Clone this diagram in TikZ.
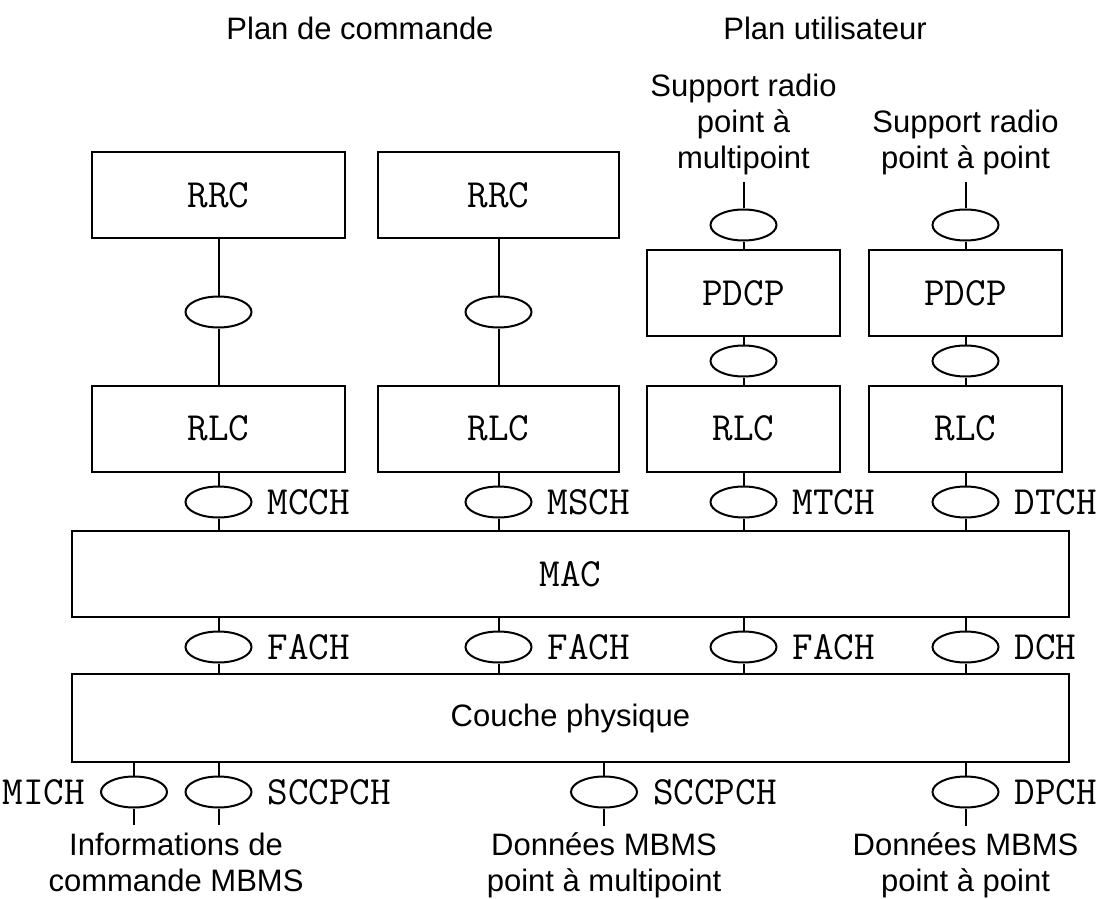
\documentclass[tikz,border=0pt]{standalone}
\usepackage{fontspec}
\setsansfont{Liberation Sans}
\usetikzlibrary{shapes.geometric, positioning}

\begin{document}
\begin{tikzpicture}[
    x=0.5pt, y=-0.5pt,
    line width=1pt,
    layer/.style={draw, rectangle, inner sep=0pt, minimum height=43pt,
        font=\fontsize{20}{22}\selectfont\ttfamily},
    chan/.style={draw, ellipse, inner sep=0pt, minimum width=33pt, minimum height=15.5pt},
    lbl/.style={inner sep=0pt, font=\fontsize{20}{22}\selectfont\ttfamily},
    txt/.style={align=center, font=\fontsize{15.5}{18}\selectfont\sffamily}
]
    \useasboundingbox (0,0) rectangle (1104,899);

    % Plan titles
    \node[txt] (ctrl) at (360,28) {Plan de commande};
    \node[txt] (user) at (825,28) {Plan utilisateur};

    % Protocol layers
    \node[layer, minimum width=126.5pt] (rrc1) at (218.5,195) {RRC};
    \node[layer, minimum width=120.5pt] (rrc2) at (498.5,195) {RRC};
    \node[layer, minimum width=96.5pt] (pdcp3) at (743.5,293) {PDCP};
    \node[layer, minimum width=96.5pt] (pdcp4) at (965.5,293) {PDCP};
    \node[layer, minimum width=126.5pt] (rlc1) at (218.5,428.5) {RLC};
    \node[layer, minimum width=120.5pt] (rlc2) at (498.5,428.5) {RLC};
    \node[layer, minimum width=96.5pt] (rlc3) at (743.5,428.5) {RLC};
    \node[layer, minimum width=96.5pt] (rlc4) at (965.5,428.5) {RLC};
    \node[layer, minimum width=498.5pt] (mac) at (570.5,574) {MAC};
    \node[layer, minimum width=498.5pt, minimum height=44pt,
        font=\fontsize{15.5}{18}\selectfont\sffamily] (phy) at (570.5,718) {Couche physique};

    % Service access points
    \node[chan] (sap1) at (218.5,312) {};
    \node[chan] (sap2) at (498.5,312) {};
    \node[chan] (rb3) at (743.5,225) {};
    \node[chan] (rb4) at (965.5,225) {};
    \node[chan] (sap3) at (743.5,361) {};
    \node[chan] (sap4) at (965.5,361) {};

    % Logical channels
    \node[chan] (mcch) at (218.5,502) {};
    \node[chan] (msch) at (498.5,502) {};
    \node[chan] (mtch) at (743.5,502) {};
    \node[chan] (dtch) at (965.5,502) {};
    \node[lbl, right=7pt of mcch] (l-mcch) {MCCH};
    \node[lbl, right=7pt of msch] (l-msch) {MSCH};
    \node[lbl, right=7pt of mtch] (l-mtch) {MTCH};
    \node[lbl, right=7pt of dtch] (l-dtch) {DTCH};

    % Transport channels
    \node[chan] (fach1) at (218.5,647) {};
    \node[chan] (fach2) at (498.5,647) {};
    \node[chan] (fach3) at (743.5,647) {};
    \node[chan] (dch) at (965.5,647) {};
    \node[lbl, right=7pt of fach1] (l-fach1) {FACH};
    \node[lbl, right=7pt of fach2] (l-fach2) {FACH};
    \node[lbl, right=7pt of fach3] (l-fach3) {FACH};
    \node[lbl, right=7pt of dch] (l-dch) {DCH};

    % Physical channels
    \node[chan] (mich) at (134,792) {};
    \node[chan] (sccpch1) at (218.5,792) {};
    \node[chan] (sccpch2) at (604,792) {};
    \node[chan] (dpch) at (965.5,792) {};
    \node[lbl, left=7pt of mich] (l-mich) {MICH};
    \node[lbl, right=7pt of sccpch1] (l-sccpch1) {SCCPCH};
    \node[lbl, right=7pt of sccpch2] (l-sccpch2) {SCCPCH};
    \node[lbl, right=7pt of dpch] (l-dpch) {DPCH};

    % Bearers and data
    \node[txt, above=13pt of rb3] (ptm) {Support radio\\point à\\multipoint};
    \node[txt, above=13pt of rb4] (ptp) {Support radio\\point à point};
    \node[txt, anchor=north] (info) at (176,825) {Informations de\\commande MBMS};
    \node[txt, below=8.5pt of sccpch2] (mdata) {Données MBMS\\point à multipoint};
    \node[txt, below=8.5pt of dpch] (pdata) {Données MBMS\\point à point};

    \path
        (rrc1) edge (sap1) (sap1) edge (rlc1)
        (rrc2) edge (sap2) (sap2) edge (rlc2)
        (ptm) edge (rb3) (rb3) edge (pdcp3) (pdcp3) edge (sap3) (sap3) edge (rlc3)
        (ptp) edge (rb4) (rb4) edge (pdcp4) (pdcp4) edge (sap4) (sap4) edge (rlc4)
        (rlc1) edge (mcch) (mcch) edge (mcch |- mac.north)
        (rlc2) edge (msch) (msch) edge (msch |- mac.north)
        (rlc3) edge (mtch) (mtch) edge (mtch |- mac.north)
        (rlc4) edge (dtch) (dtch) edge (dtch |- mac.north)
        (fach1 |- mac.south) edge (fach1) (fach1) edge (fach1 |- phy.north)
        (fach2 |- mac.south) edge (fach2) (fach2) edge (fach2 |- phy.north)
        (fach3 |- mac.south) edge (fach3) (fach3) edge (fach3 |- phy.north)
        (dch |- mac.south) edge (dch) (dch) edge (dch |- phy.north)
        (mich |- phy.south) edge (mich) (mich) edge (mich |- info.north)
        (sccpch1 |- phy.south) edge (sccpch1) (sccpch1) edge (sccpch1 |- info.north)
        (sccpch2 |- phy.south) edge (sccpch2) (sccpch2) edge (mdata)
        (dpch |- phy.south) edge (dpch) (dpch) edge (pdata);
\end{tikzpicture}
\end{document}
